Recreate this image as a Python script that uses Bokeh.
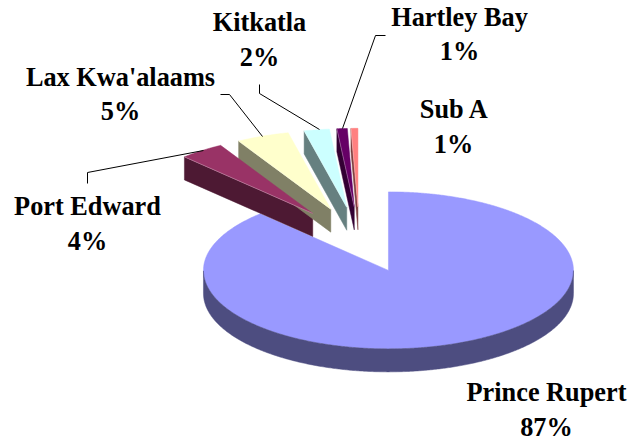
import numpy as np
from bokeh.plotting import figure
from bokeh.models import Range1d
from bokeh.core.properties import value
from bokeh.embed import file_html
from bokeh.resources import INLINE

# --- data ---
categories = ["Prince Rupert", "Port Edward", "Lax Kwa'alaams", "Kitkatla", "Hartley Bay", "Sub A"]
percent_labels = [87, 4, 5, 2, 1, 1]
shares = [87.8, 3.9, 4.6, 2.2, 0.9, 0.6]

# --- styles and layout ---
top_colors = ["#9999FF", "#993366", "#FFFFCC", "#CCFFFF", "#660066", "#FF8080"]
side_colors = ["#4D4D80", "#4D1933", "#808066", "#668080", "#330033", "#804040"]
CX, CY = 358.9, 239.3     # pie centre on the page
RX, RY = 185.0, 78.5      # ellipse radii
DEPTH = 23.0
EXPLODE = 0.42
label_pos = {
    "Prince Rupert": ((546, 391.5), (546, 426.5)),
    "Port Edward": ((87, 205.5), (87, 240.5)),
    "Lax Kwa'alaams": ((120, 76.5), (120, 110.5)),
    "Kitkatla": ((259, 21.5), (259, 56.5)),
    "Hartley Bay": ((459, 16.5), (459, 50.5)),
    "Sub A": ((454, 108.5), (453, 143.5)),
}
leaders_x = [[87, 87, 203], [220, 229, 262], [259, 259, 319], [385, 375, 342]]
leaders_y = [[183, 172, 150], [94, 94, 136], [84, 93, 129], [35, 35, 128]]

p = figure(width=631, height=440, output_backend="svg", toolbar_location=None,
           x_range=Range1d(0, 631), y_range=Range1d(440, 0), min_border=0,
           x_axis_type="linear", y_axis_type="linear")
p.axis.visible = False
p.grid.visible = False
p.outline_line_color = None

def ell(a):
    return RX * np.sin(a), -RY * np.cos(a)

start = 0.0
faces = []
for name, share, top, side in zip(categories, shares, top_colors, side_colors):
    a0 = start
    a1 = start + share / 100 * 2 * np.pi
    start = a1
    mid = (a0 + a1) / 2
    dx, dy = ell(mid)
    ax, ay = CX + EXPLODE * dx, CY + EXPLODE * dy
    arc = np.linspace(a0, a1, max(4, int(share * 8)))
    ex, ey = ell(arc)
    ex, ey = ax + ex, ay + ey
    faces.append((ax, ay, arc, ex, ey, top, side))

sx, sy, sc = [], [], []
tx, ty, tc = [], [], []
hx, hy = [], []
for ax, ay, arc, ex, ey, top, side in faces:
    # visible outer rim: the front half of the ellipse
    mask = np.cos(arc) < 0
    if mask.any():
        rx, ry = ex[mask], ey[mask]
        sx.append(np.r_[rx, rx[::-1]])
        sy.append(np.r_[ry, ry[::-1] + DEPTH])
        sc.append(side)
    # left cut wall for the exploded wedges at the back
    if arc[0] > np.pi:
        sx.append([ex[0], ax, ax, ex[0]])
        sy.append([ey[0], ay, ay + DEPTH, ey[0] + DEPTH])
        sc.append(side)
        hx.append([ex[0], ax])
        hy.append([ey[0], ay])
    tx.append(np.r_[ax, ex])
    ty.append(np.r_[ay, ey])
    tc.append(top)

# main slice first, wedges over it, in order left to right
p.patches(xs=[tx[0]], ys=[ty[0]], fill_color=tc[0], line_color=tc[0], line_width=0.5)
p.patches(xs=[sx[0]], ys=[sy[0]], fill_color=sc[0], line_color=sc[0], line_width=0.5)
p.patches(xs=sx[1:], ys=sy[1:], fill_color=sc[1:], line_color=sc[1:], line_width=0.5)
p.patches(xs=tx[1:], ys=ty[1:], fill_color=tc[1:], line_color=tc[1:], line_width=0.5)
p.multi_line(xs=hx, ys=hy, line_color="white", line_alpha=0.4, line_width=0.7)

p.multi_line(xs=leaders_x, ys=leaders_y, line_color="black", line_width=1)

for name, pct in zip(categories, percent_labels):
    (x1, y1), (x2, y2) = label_pos[name]
    p.text(x=[x1, x2], y=[y1, y2], text=[name, f"{pct}%"], text_align="center",
           text_baseline="middle", text_font=value("Liberation Serif"),
           text_font_style="bold", text_font_size="26.3px", text_color="black")

open("out.html", "w").write(file_html(p, INLINE))
